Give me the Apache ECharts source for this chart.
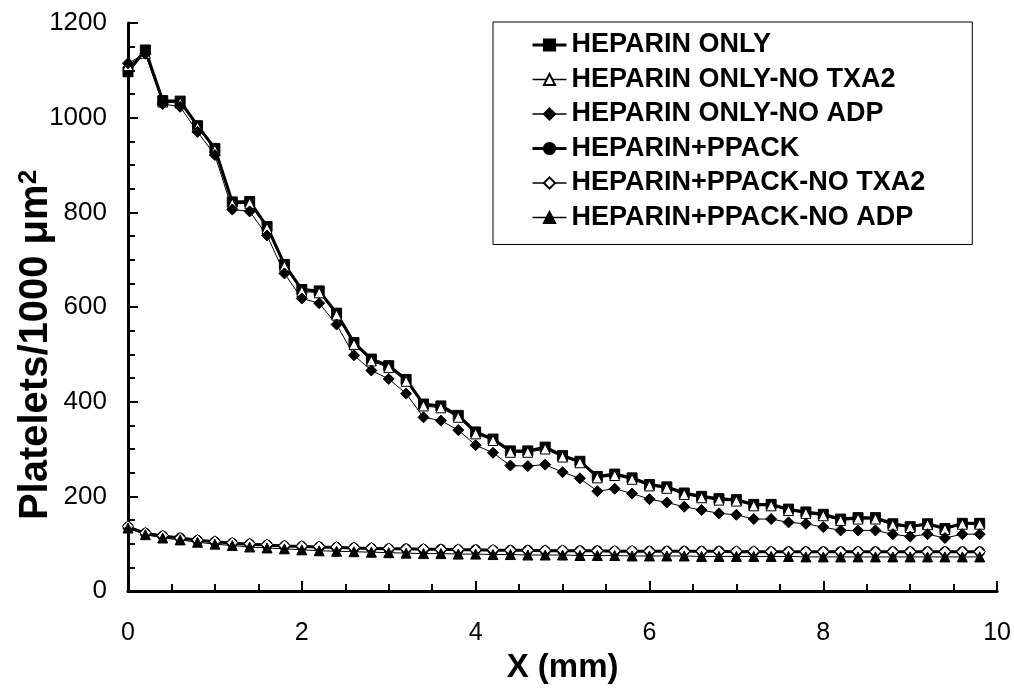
<!DOCTYPE html>
<html>
<head>
<meta charset="utf-8">
<script src="https://cdn.jsdelivr.net/npm/echarts@6/dist/echarts.min.js"></script>
<style>
html,body{margin:0;padding:0;background:#fff;}
#c{width:1014px;height:689px;}
</style>
</head>
<body>
<div id="c"></div>
<script>
var xs = [0,0.2,0.4,0.6,0.8,1.0,1.2,1.4,1.6,1.8,2.0,2.2,2.4,2.6,2.8,3.0,3.2,3.4,3.6,3.8,4.0,4.2,4.4,4.6,4.8,5.0,5.2,5.4,5.6,5.8,6.0,6.2,6.4,6.6,6.8,7.0,7.2,7.4,7.6,7.8,8.0,8.2,8.4,8.6,8.8,9.0,9.2,9.4,9.6,9.8];

var seriesNames = ['HEPARIN ONLY','HEPARIN ONLY-NO TXA2','HEPARIN ONLY-NO ADP','HEPARIN+PPACK','HEPARIN+PPACK-NO TXA2','HEPARIN+PPACK-NO ADP'];

var heparinOnly = [1097,1143,1036,1035,983,935,822,823,770,690,637,634,587,525,490,476,447,395,391,371,336,321,296,296,304,286,274,242,247,239,225,220,207,200,195,193,183,183,173,167,162,152,155,155,142,136,142,132,143,143];
var heparinOnlyNoTXA2 = [1110,1136,1033,1031,980,931,818,819,766,686,633,630,583,521,486,472,443,391,387,367,332,318,293,293,300,283,271,239,244,236,222,217,204,197,192,190,180,180,170,164,159,149,152,152,139,134,140,130,141,141];
var heparinOnlyNoADP = [1115,1135,1029,1023,970,921,806,802,751,671,618,608,563,498,466,448,417,367,360,340,308,292,265,264,267,251,238,211,216,206,194,187,178,171,164,161,152,152,145,142,135,128,128,128,120,115,120,112,120,120];
var heparinPPACK = [135,122,116,112,107,104,101,99,97,95,94,93,92,91,90,89,89,88,88,87,87,86,86,86,85,85,85,85,84,84,84,84,84,84,84,83,83,83,83,83,83,83,83,83,83,83,83,83,83,83];
var heparinPPACKNoTXA2 = [137,123,117,112,108,105,102,100,98,96,95,94,93,92,91,90,89,89,88,88,87,87,86,86,86,86,85,85,85,85,84,84,84,84,84,84,84,83,83,83,83,83,83,83,83,83,83,83,83,83];
var heparinPPACKNoADP = [133,119,112,108,103,99,96,93,91,89,87,85,84,83,82,81,80,79,79,78,78,77,77,76,76,76,75,75,75,74,74,74,74,73,73,73,73,73,73,72,72,72,72,72,72,72,72,72,72,72];

var yTicks = [0,200,400,600,800,1000,1200];
var xTicks = [0,2,4,6,8,10];

function pairs(ys){ return xs.map(function(x,i){ return [x, ys[i]]; }); }

var FONT = '"Liberation Sans", Arial, sans-serif';

var styles = [
  {symbol:'rect', fill:'#000', lw:3, size:10},
  {symbol:'triangle', fill:'#fff', lw:1, size:10},
  {symbol:'diamond', fill:'#000', lw:1, size:11},
  {symbol:'circle', fill:'#000', lw:3, size:10},
  {symbol:'diamond', fill:'#fff', lw:1, size:11},
  {symbol:'triangle', fill:'#000', lw:1, size:10}
];
var allData = [heparinOnly, heparinOnlyNoTXA2, heparinOnlyNoADP, heparinPPACK, heparinPPACKNoTXA2, heparinPPACKNoADP];

var series = allData.map(function(d, i){
  var s = styles[i];
  return {
    name: seriesNames[i],
    type: 'line',
    data: pairs(d),
    symbol: s.symbol,
    symbolSize: s.size,
    showAllSymbol: true,
    lineStyle: {color:'#000', width: s.lw},
    itemStyle: {color: s.fill, borderColor:'#000', borderWidth:1},
    animation: false
  };
});

var legendData = seriesNames.map(function(n, i){
  return {name: n, lineStyle: {color:'#000', width: styles[i].lw === 3 ? 3 : 1.5}};
});

var chart = echarts.init(document.getElementById('c'), null, {renderer:'canvas'});
chart.setOption({
  backgroundColor: '#fff',
  animation: false,
  grid: {left:128, right:16, top:23, bottom:91},
  xAxis: {
    type:'value', min:0, max:10, interval:2,
    name:'X (mm)', nameLocation:'middle', nameGap:60,
    nameTextStyle:{fontFamily:FONT, fontSize:33, fontWeight:'bold', color:'#000'},
    axisLine:{show:true, onZero:false, lineStyle:{color:'#000', width:3}},
    axisTick:{show:true, inside:true, length:10, lineStyle:{color:'#000', width:2}},
    minorTick:{show:true, splitNumber:4, length:7, lineStyle:{color:'#000', width:2}},
    axisLabel:{fontFamily:FONT, fontSize:25, color:'#000', margin:30,
      formatter:function(v){ return xTicks.indexOf(v) >= 0 ? String(v) : ''; }},
    splitLine:{show:false}
  },
  yAxis: {
    type:'value', min:0, max:1200, interval:200,
    axisLine:{show:true, lineStyle:{color:'#000', width:3}},
    axisTick:{show:true, inside:true, length:10, lineStyle:{color:'#000', width:2}},
    minorTick:{show:true, splitNumber:4, length:7, lineStyle:{color:'#000', width:2}},
    axisLabel:{fontFamily:FONT, fontSize:26, color:'#000', margin:21,
      formatter:function(v){ return yTicks.indexOf(v) >= 0 ? String(v) : ''; }},
    splitLine:{show:false}
  },
  legend: {
    orient:'vertical',
    left:493, top:22,
    padding:[9,47,13,38],
    itemWidth:34, itemHeight:14, itemGap:6.5,
    borderColor:'#000', borderWidth:1,
    backgroundColor:'#fff',
    textStyle:{fontFamily:FONT, fontSize:27, fontWeight:'bold', color:'#000', lineHeight:28},
    data: legendData
  },
  graphic: [{
    type:'text',
    x:36, y:345,
    rotation: Math.PI/2,
    style:{
      text:'{a|Platelets/1000 μm}{s|2}',
      align:'center', verticalAlign:'middle',
      rich:{
        a:{fontFamily:FONT, fontSize:40, fontWeight:'bold', fill:'#000', verticalAlign:'bottom'},
        s:{fontFamily:FONT, fontSize:26, fontWeight:'bold', fill:'#000', verticalAlign:'top'}
      }
    }
  }],
  series: series
});
</script>
</body>
</html>
